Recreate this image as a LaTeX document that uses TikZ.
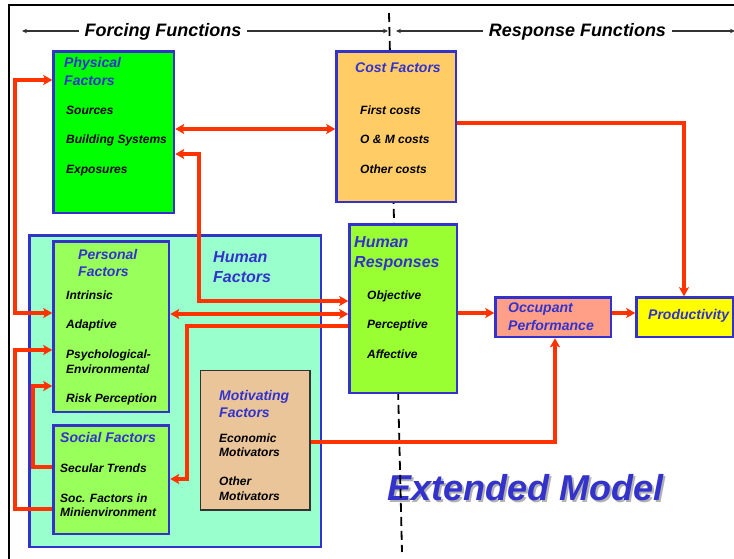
\documentclass[tikz,border=0pt]{standalone}
\usepackage{fontspec}
\setmainfont{Liberation Sans}
\usetikzlibrary{arrows.meta}

\definecolor{edgeblue}{RGB}{51,51,204}
\definecolor{titleblue}{RGB}{51,51,204}
\definecolor{linkred}{RGB}{255,51,0}
\definecolor{physgreen}{RGB}{0,255,0}
\definecolor{costorange}{RGB}{255,204,102}
\definecolor{humanaqua}{RGB}{153,255,204}
\definecolor{leafgreen}{RGB}{153,255,90}
\definecolor{respgreen}{RGB}{153,255,51}
\definecolor{motivtan}{RGB}{234,197,153}
\definecolor{occsalmon}{RGB}{255,159,136}
\definecolor{prodyellow}{RGB}{255,255,0}

\begin{document}
\begin{tikzpicture}[x=1pt,y=-1pt,
  box/.style={draw=edgeblue, line width=2.5pt, rectangle, anchor=north west, inner sep=0pt},
  item/.style={anchor=base west, inner sep=0pt, font=\fontsize{12}{14}\selectfont\bfseries\itshape},
  title/.style={anchor=base west, inner sep=0pt, text=titleblue, font=\fontsize{14}{17}\selectfont\bfseries\itshape},
  bigtitle/.style={anchor=base west, inner sep=0pt, text=titleblue, font=\fontsize{16}{19}\selectfont\bfseries\itshape},
  header/.style={anchor=base, inner sep=0pt, outer sep=6pt, font=\fontsize{18}{21}\selectfont\bfseries\itshape},
  tipred/.tip={Stealth[length=9pt,width=10pt,inset=2pt]},
  conn/.style={draw=linkred, line width=3.3pt, -tipred},
  biconn/.style={draw=linkred, line width=3.3pt, tipred-tipred},
  hdrline/.style={draw=black!80, line width=1.1pt, -{Stealth[length=5pt,width=4.5pt]}},
  divider/.style={draw=black, line width=1.8pt, dash pattern=on 9pt off 5pt},
]
\useasboundingbox (0,0) rectangle (734,559);

% outer frame (top and left edges)
\draw[line width=2pt] (8.5,562) -- (8.5,5.5) -- (737,5.5);

% large caption with its drop shadow
\node[anchor=base west, inner sep=0pt, text=black!30, font=\fontsize{36}{40}\selectfont\bfseries\itshape]
  (extshadow) at (389.5,502.5) {Extended Model};
\node[anchor=base west, inner sep=0pt, text=titleblue, font=\fontsize{36}{40}\selectfont\bfseries\itshape]
  (extended) at (387,500) {Extended Model};

% divider between forcing and response functions
\coordinate (dtop) at (389,13);
\coordinate (dbot) at (402,552);
\draw[divider] (dtop) -- (dbot);

% header labels and their arrows
\node[header] (forcing) at (163,37) {Forcing Functions};
\node[header] (response) at (577.5,37) {Response Functions};
\coordinate (fl) at (22,31);
\coordinate (fr) at (388,31);
\coordinate (rl) at (396,31);
\coordinate (rr) at (735,31);
\draw[hdrline] (forcing.west |- fl) -- (fl);
\draw[hdrline] (forcing.east |- fr) -- (fr);
\draw[hdrline] (response.west |- rl) -- (rl);
\draw[hdrline] (response.east |- rr) -- (rr);

% boxes
\node[box, fill=physgreen, minimum width=120.5pt, minimum height=161.5pt] (phys) at (52.25,50.25) {};
\node[box, fill=costorange, minimum width=119.5pt, minimum height=150.5pt] (cost) at (335.25,50.25) {};
\node[box, fill=humanaqua, minimum width=291.5pt, minimum height=311.5pt] (human) at (28.25,234.25) {};
\node[box, fill=leafgreen, minimum width=115.5pt, minimum height=170.5pt] (pers) at (52.25,240.25) {};
\node[box, fill=leafgreen, minimum width=115.5pt, minimum height=108.5pt] (soc) at (52.25,424.25) {};
\node[box, draw=black!80, line width=1.2pt, fill=motivtan, minimum width=109.8pt, minimum height=139.8pt] (mot) at (199.6,369.6) {};
\node[box, fill=respgreen, minimum width=107.5pt, minimum height=168.5pt] (hr) at (348.25,223.25) {};
\node[box, fill=occsalmon, minimum width=115.5pt, minimum height=39.5pt] (occ) at (494.25,296.25) {};
\node[box, fill=prodyellow, minimum width=96.5pt, minimum height=39.5pt] (prod) at (635.25,296.25) {};

% connectors
\draw[biconn] (phys.west |- 0,80) -| (15,313) -- (pers.west |- 0,313);
\draw[biconn] (phys.east |- 0,129) -- (cost.west |- 0,129);
\draw[biconn] (phys.east |- 0,154) -| (199,301) -- (hr.west |- 0,301);
\draw[biconn] (pers.east |- 0,314) -- (hr.west |- 0,314);
\draw[conn] (hr.west |- 0,326) -| (187,479) -- (soc.east |- 0,479);
\draw[conn] (soc.west |- 0,467) -| (33,386) -- (pers.west |- 0,386);
\draw[conn] (soc.west |- 0,509) -| (15,350) -- (pers.west |- 0,350);
\draw[conn] (mot.east |- 0,442) -| (occ.south -| 555,0);
\draw[conn] (cost.east |- 0,123) -| (prod.north -| 684,0);
\draw[conn] (hr.east |- 0,313) -- (occ.west |- 0,313);
\draw[conn] (occ.east |- 0,313) -- (prod.west |- 0,313);

% physical factors
\node[title] (physA) at (64,68) {Physical};
\node[title] (physB) at (64,86) {Factors};
\node[item] (physC) at (66,115) {Sources};
\node[item] (physD) at (66,144) {Building Systems};
\node[item] (physE) at (66,174) {Exposures};

% cost factors
\node[title] (costA) at (355,73) {Cost Factors};
\node[item] (costB) at (360,115) {First costs};
\node[item] (costC) at (360,144) {O \& M costs};
\node[item] (costD) at (360,174) {Other costs};

% human factors
\node[bigtitle] (humA) at (213,262) {Human};
\node[bigtitle] (humB) at (213,282) {Factors};

% personal factors
\node[title] (persA) at (78,259) {Personal};
\node[title] (persB) at (78,276) {Factors};
\node[item] (persC) at (66,299) {Intrinsic};
\node[item] (persD) at (66,328) {Adaptive};
\node[item] (persE) at (66,358) {Psychological-};
\node[item] (persF) at (66,373) {Environmental};
\node[item] (persG) at (66,402) {Risk Perception};

% social factors
\node[title] (socA) at (60,442) {Social Factors};
\node[item] (socB) at (60,472) {Secular Trends};
\node[item] (socC) at (60,502) {Soc. Factors in};
\node[item] (socD) at (60,516) {Minienvironment};

% motivating factors
\node[title] (motA) at (219,400) {Motivating};
\node[title] (motB) at (219,417) {Factors};
\node[item] (motC) at (219,442) {Economic};
\node[item] (motD) at (219,456) {Motivators};
\node[item] (motE) at (219,485) {Other};
\node[item] (motF) at (219,500) {Motivators};

% human responses
\node[bigtitle] (hrA) at (354,247) {Human};
\node[bigtitle] (hrB) at (354,267) {Responses};
\node[item] (hrC) at (367,299) {Objective};
\node[item] (hrD) at (367,328) {Perceptive};
\node[item] (hrE) at (367,358) {Affective};

% outcomes
\node[title] (occA) at (508,312) {Occupant};
\node[title] (occB) at (508,330) {Performance};
\node[title] (prodA) at (648,319) {Productivity};
\end{tikzpicture}
\end{document}
